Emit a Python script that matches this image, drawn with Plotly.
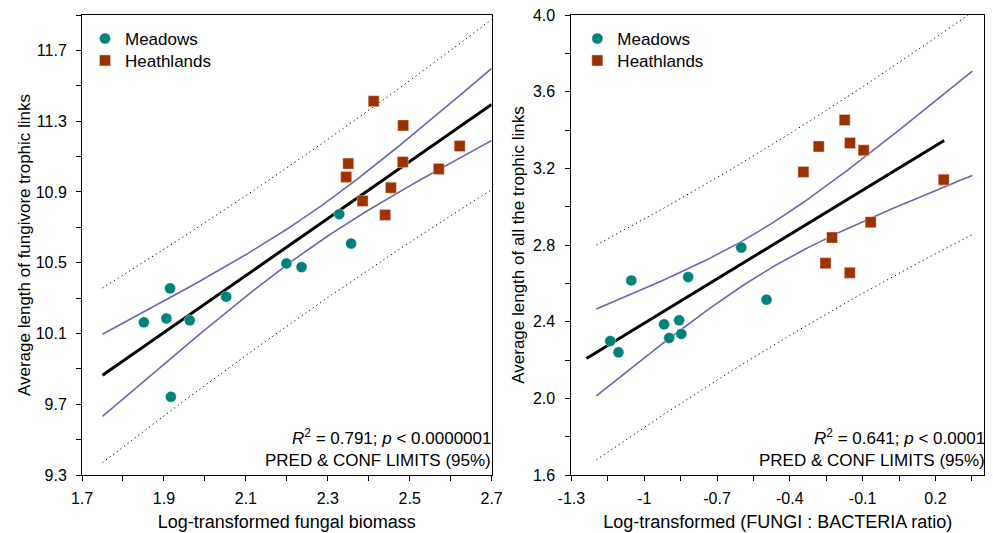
import numpy as np
import plotly.graph_objects as go

# ---------------- data ----------------
left_meadows_x = [1.851, 1.906, 1.915, 1.963, 2.052, 1.917, 2.199, 2.236, 2.328, 2.357]
left_meadows_y = [10.163, 10.185, 10.355, 10.174, 10.308, 9.742, 10.496, 10.475, 10.774, 10.608]
left_heath_x = [2.412, 2.484, 2.622, 2.350, 2.483, 2.345, 2.571, 2.454, 2.385, 2.440]
left_heath_y = [11.413, 11.276, 11.159, 11.060, 11.069, 10.985, 11.030, 10.924, 10.849, 10.770]

right_meadows_x = [-1.053, -0.819, -0.600, -0.496, -1.140, -1.106, -0.918, -0.856, -0.897, -0.847]
right_meadows_y = [2.615, 2.633, 2.787, 2.515, 2.299, 2.240, 2.386, 2.407, 2.315, 2.336]
right_heath_x = [-0.174, -0.281, -0.152, -0.096, -0.344, 0.234, -0.067, -0.226, -0.253, -0.153]
right_heath_y = [3.452, 3.314, 3.332, 3.294, 3.181, 3.141, 2.919, 2.839, 2.705, 2.655]

left_fit_range = [1.75, 2.70]
left_band_range = [1.75, 2.70]
right_fit_range = [-1.238, 0.236]
right_band_range = [-1.197, 0.352]

left_xtick_vals = [1.7, 1.9, 2.1, 2.3, 2.5, 2.7]
left_xtick_text = ["1.7", "1.9", "2.1", "2.3", "2.5", "2.7"]
left_xminor = [1.8, 2.0, 2.2, 2.4, 2.6]
left_ytick_vals = [9.3, 9.7, 10.1, 10.5, 10.9, 11.3, 11.7]
left_ytick_text = ["9.3", "9.7", "10.1", "10.5", "10.9", "11.3", "11.7"]
left_yminor = [9.5, 9.9, 10.3, 10.7, 11.1, 11.5, 11.9]

right_xtick_vals = [-1.3, -1.0, -0.7, -0.4, -0.1, 0.2]
right_xtick_text = ["-1.3", "-1", "-0.7", "-0.4", "-0.1", "0.2"]
right_xminor = [-1.15, -0.85, -0.55, -0.25, 0.05, 0.35]
right_ytick_vals = [1.6, 2.0, 2.4, 2.8, 3.2, 3.6, 4.0]
right_ytick_text = ["1.6", "2.0", "2.4", "2.8", "3.2", "3.6", "4.0"]
right_yminor = [1.8, 2.2, 2.6, 3.0, 3.4, 3.8]

T_95_DF18 = 2.1009

TEAL = "#00827C"
RUST = "#9A3300"
PURPLE = "#6C68A8"
FONT = "Liberation Sans, Arial, Helvetica, sans-serif"


def ols_bands(xs, ys, fit_range, band_range):
    x = np.asarray(xs, float)
    y = np.asarray(ys, float)
    n = len(x)
    xm, ym = x.mean(), y.mean()
    sxx = ((x - xm) ** 2).sum()
    b = ((x - xm) * (y - ym)).sum() / sxx
    a = ym - b * xm
    s = np.sqrt(((y - (a + b * x)) ** 2).sum() / (n - 2))
    fx = np.array(fit_range)
    fy = a + b * fx
    gx = np.linspace(band_range[0], band_range[1], 120)
    gy = a + b * gx
    se_c = s * np.sqrt(1.0 / n + (gx - xm) ** 2 / sxx)
    se_p = s * np.sqrt(1.0 + 1.0 / n + (gx - xm) ** 2 / sxx)
    return fx, fy, gx, gy - T_95_DF18 * se_c, gy + T_95_DF18 * se_c, gy - T_95_DF18 * se_p, gy + T_95_DF18 * se_p


fig = go.Figure()


def add_panel(mx, my, hx, hy, fit_range, band_range, xa, ya, leg_m, leg_h):
    fx, fy, gx, cl, cu, pl, pu = ols_bands(mx + hx, my + hy, fit_range, band_range)
    for yy in (pu, pl):
        fig.add_trace(go.Scatter(x=gx, y=yy, mode="lines", xaxis=xa, yaxis=ya, showlegend=False,
                                 hoverinfo="skip",
                                 line=dict(color="black", width=1, dash="1.2px,3.3px")))
    for yy in (cu, cl):
        fig.add_trace(go.Scatter(x=gx, y=yy, mode="lines", xaxis=xa, yaxis=ya, showlegend=False,
                                 hoverinfo="skip", line=dict(color=PURPLE, width=1.6)))
    fig.add_trace(go.Scatter(x=fx, y=fy, mode="lines", xaxis=xa, yaxis=ya, showlegend=False,
                             hoverinfo="skip", line=dict(color="black", width=3)))
    fig.add_trace(go.Scatter(x=mx, y=my, mode="markers", name="Meadows", xaxis=xa, yaxis=ya,
                             legend=leg_m,
                             marker=dict(symbol="circle", size=11, color=TEAL,
                                         line=dict(color="rgba(255,255,255,0.5)", width=0.8))))
    fig.add_trace(go.Scatter(x=hx, y=hy, mode="markers", name="Heathlands", xaxis=xa, yaxis=ya,
                             legend=leg_h,
                             marker=dict(symbol="square", size=11, color=RUST,
                                         line=dict(color="rgba(255,220,210,0.6)", width=0.8))))


add_panel(left_meadows_x, left_meadows_y, left_heath_x, left_heath_y,
          left_fit_range, left_band_range, "x", "y", "legend", "legend2")
add_panel(right_meadows_x, right_meadows_y, right_heath_x, right_heath_y,
          right_fit_range, right_band_range, "x2", "y2", "legend3", "legend4")

# The page body adds an 8px offset; margins compensate so the plot areas land where the reference has them.
W, H = 993, 533
ML, MR, MT, MB = 74, 14, 6, 66
pw = W - ML - MR
ph = H - MT - MB
d1 = [0, 411 / pw]
d2 = [491 / pw, 1]

axis_common = dict(showline=True, linecolor="black", linewidth=1, mirror=True,
                   ticks="outside", ticklen=5, tickcolor="black", tickwidth=1,
                   showgrid=False, zeroline=False,
                   tickfont=dict(family=FONT, size=16, color="black"))
minor_common = dict(ticks="outside", ticklen=5, tickcolor="black", tickwidth=1, showgrid=False)


def legend_at(px_left, py_center):
    # px_left: pixels from left of the whole plotting region; py_center: pixels from top of the plot area
    return dict(x=px_left / pw, y=(ph - py_center) / ph, xanchor="left", yanchor="middle",
                bgcolor="rgba(0,0,0,0)", font=dict(family=FONT, size=17),
                itemclick=False, borderwidth=0)


fig.update_layout(
    width=W, height=H,
    margin=dict(l=ML, r=MR, t=MT, b=MB),
    paper_bgcolor="white", plot_bgcolor="white",
    font=dict(family=FONT, size=16, color="black"),
    xaxis=dict(domain=d1, range=[1.7, 2.7], tickmode="array", tickvals=left_xtick_vals,
               ticktext=left_xtick_text, minor=dict(tickvals=left_xminor, **minor_common),
               ticklabelstandoff=4,
               title=dict(text="Log-transformed fungal biomass", standoff=9,
                          font=dict(family=FONT, size=18)), anchor="y", **axis_common),
    yaxis=dict(domain=[0, 1], range=[9.3, 11.9], tickmode="array", tickvals=left_ytick_vals,
               ticktext=left_ytick_text, minor=dict(tickvals=left_yminor, **minor_common),
               ticklabelstandoff=6,
               title=dict(text="Average length of fungivore trophic links", standoff=0,
                          font=dict(family=FONT, size=17)), anchor="x", **axis_common),
    xaxis2=dict(domain=d2, range=[-1.3, 0.4], tickmode="array", tickvals=right_xtick_vals,
                ticktext=right_xtick_text, minor=dict(tickvals=right_xminor, **minor_common),
                ticklabelstandoff=4,
                title=dict(text="Log-transformed (FUNGI : BACTERIA ratio)", standoff=9,
                           font=dict(family=FONT, size=18)), anchor="y2", **axis_common),
    yaxis2=dict(domain=[0, 1], range=[1.6, 4.0], tickmode="array", tickvals=right_ytick_vals,
                ticktext=right_ytick_text, minor=dict(tickvals=right_yminor, **minor_common),
                ticklabelstandoff=7, ticklabeloverflow="allow", automargin="left",
                title=dict(text="Average length of all the trophic links", standoff=3,
                           font=dict(family=FONT, size=17)), anchor="x2", **axis_common),
    legend=legend_at(3, 24),
    legend2=legend_at(3, 46),
    legend3=legend_at(491 + 6, 24),
    legend4=legend_at(491 + 6, 46),
    showlegend=True,
)

ann_font = dict(family=FONT, size=17, color="black")
fig.add_annotation(xref="x domain", yref="y domain", x=1.004, y=(475 - 437) / 461,
                   xanchor="right", yanchor="middle", showarrow=False,
                   text="<i>R</i><sup>2</sup> = 0.791; <i>p</i> &lt; 0.0000001", font=ann_font)
fig.add_annotation(xref="x domain", yref="y domain", x=1.004, y=(475 - 460) / 461,
                   xanchor="right", yanchor="middle", showarrow=False,
                   text="PRED &amp; CONF LIMITS (95%)", font=ann_font)
fig.add_annotation(xref="x2 domain", yref="y2 domain", x=1.007, y=(475 - 437) / 461,
                   xanchor="right", yanchor="middle", showarrow=False,
                   text="<i>R</i><sup>2</sup> = 0.641; <i>p</i> &lt; 0.0001", font=ann_font)
fig.add_annotation(xref="x2 domain", yref="y2 domain", x=1.007, y=(475 - 460) / 461,
                   xanchor="right", yanchor="middle", showarrow=False,
                   text="PRED &amp; CONF LIMITS (95%)", font=ann_font)

fig.write_html("out.html")
